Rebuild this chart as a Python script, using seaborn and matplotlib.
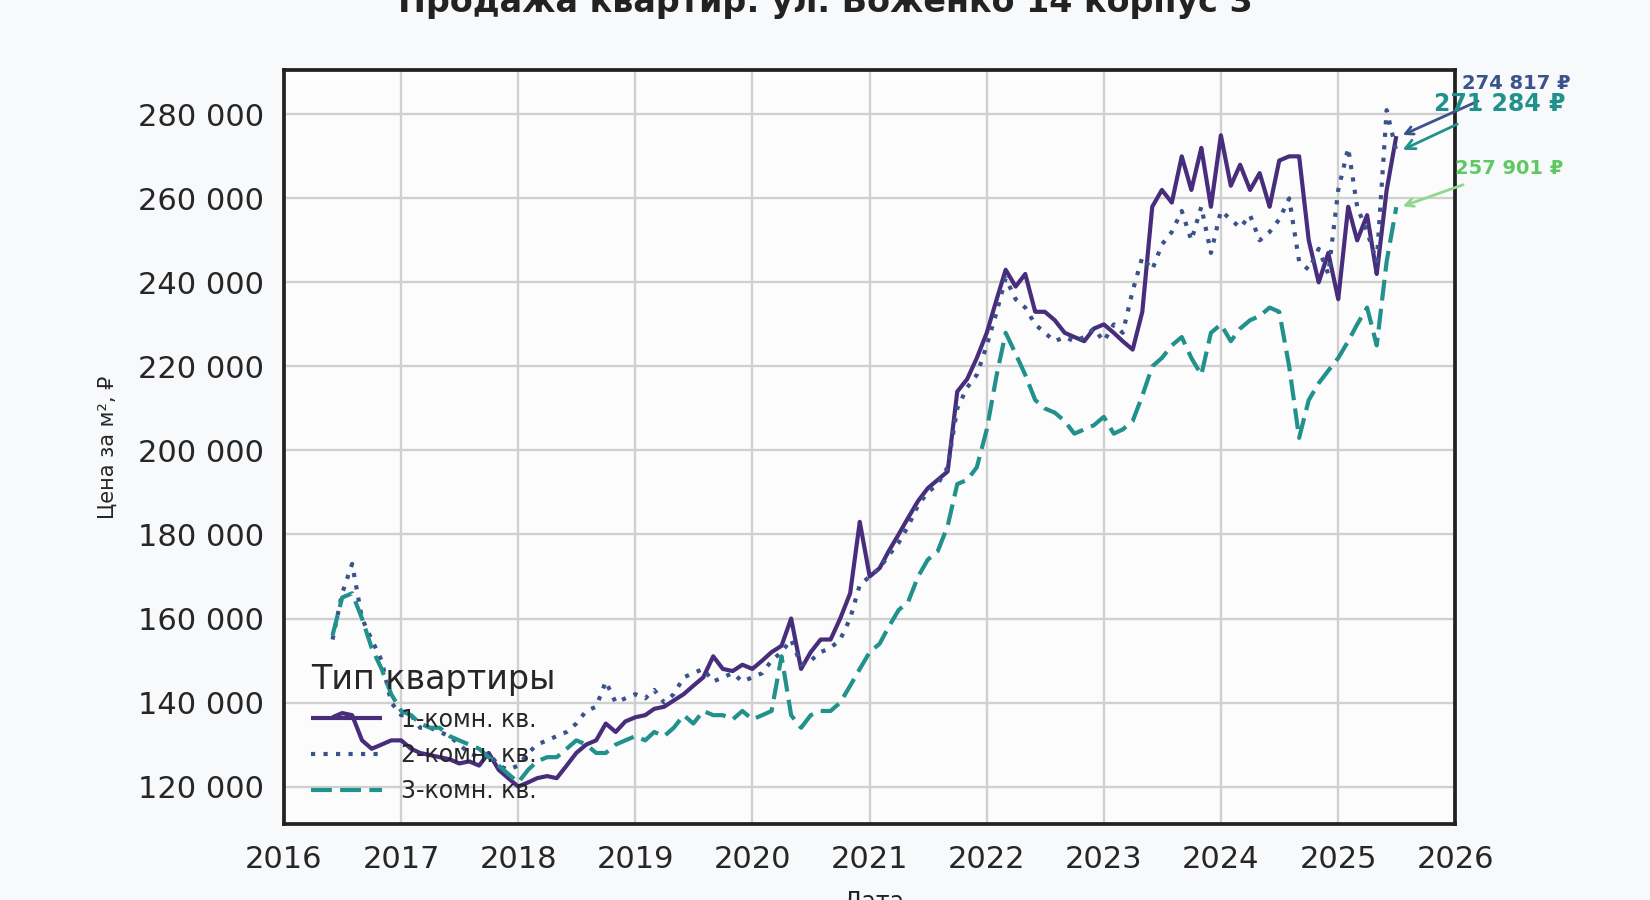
import matplotlib
matplotlib.use("Agg")
import matplotlib.pyplot as plt
import seaborn as sns
import pandas as pd

start_month = "2016-06-01"
labels = ["1-комн. кв.", "2-комн. кв.", "3-комн. кв."]

one_room = [
    136500, 137500, 137000, 131000, 129000, 130000, 131000,
    131000, 129000, 128000, 127500, 127000, 126500, 125500, 126000, 125000, 128000, 124000, 122000,
    120000, 121000, 122000, 122500, 122000, 125000, 128000, 130000, 131000, 135000, 133000, 135500,
    136500, 137000, 138500, 139000, 140500, 142000, 144000, 146000, 151000, 148000, 147500, 149000,
    148000, 150000, 152000, 153500, 160000, 148000, 152000, 155000, 155000, 160000, 166000, 183000,
    170000, 172000, 176000, 180000, 184000, 188000, 191000, 193000, 195000, 214000, 217000, 222000,
    228000, 236000, 243000, 239000, 242000, 233000, 233000, 231000, 228000, 227000, 226000, 229000,
    230000, 228000, 226000, 224000, 233000, 258000, 262000, 259000, 270000, 262000, 272000, 258000,
    275000, 263000, 268000, 262000, 266000, 258000, 269000, 270000, 270000, 250000, 240000, 247000,
    236000, 258000, 250000, 256000, 242000, 262000, 274817,
]
two_room = [
    155000, 166000, 173000, 160000, 155000, 150000, 140000,
    137000, 137000, 134000, 134000, 133000, 132000, 130000, 128000, 127000, 128000, 125000, 124000,
    125000, 128000, 130000, 131000, 132000, 133000, 135000, 138000, 139000, 145000, 140000, 141000,
    142000, 141000, 143000, 140000, 142000, 146000, 147000, 148000, 145000, 146000, 147000, 145000,
    146000, 147000, 150000, 152000, 155000, 149000, 150000, 152000, 153000, 155000, 160000, 168000,
    170000, 172000, 175000, 178000, 182000, 187000, 190000, 192000, 196000, 210000, 215000, 218000,
    225000, 233000, 241000, 236000, 234000, 230000, 228000, 226000, 227000, 226000, 227000, 229000,
    226000, 230000, 228000, 238000, 246000, 243000, 249000, 252000, 257000, 250000, 258000, 247000,
    257000, 255000, 253000, 256000, 250000, 252000, 255000, 260000, 245000, 243000, 248000, 242000,
    262000, 272000, 258000, 252000, 245000, 281000, 271284,
]
three_room = [
    156000, 165000, 166000, 160000, 153000, 148000, 142000,
    138000, 137000, 135000, 134000, 134000, 132000, 131000, 130000, 129000, 127000, 125000, 123000,
    121000, 124000, 126000, 127000, 127000, 129000, 131000, 130000, 128000, 128000, 130000, 131000,
    132000, 131000, 133000, 132000, 134000, 137000, 135000, 138000, 137000, 137000, 136000, 138000,
    136000, 137000, 138000, 151000, 137000, 134000, 137000, 138000, 138000, 140000, 144000, 148000,
    152000, 154000, 158000, 162000, 164000, 170000, 174000, 176000, 182000, 192000, 193000, 196000,
    205000, 218000, 228000, 223000, 218000, 212000, 210000, 209000, 207000, 204000, 205000, 206000,
    208000, 204000, 205000, 207000, 213000, 220000, 222000, 225000, 227000, 222000, 218000, 228000,
    230000, 226000, 229000, 231000, 232000, 234000, 233000, 220000, 203000, 212000, 216000, 219000,
    222000, 226000, 230000, 234000, 225000, 245000, 257901,
]
x_ticks = list(range(2016, 2027))
y_ticks = [120000, 140000, 160000, 180000, 200000, 220000, 240000, 260000, 280000]

dates = pd.date_range(start_month, periods=len(one_room), freq="MS")
df = pd.concat([
    pd.DataFrame({"Дата": dates, "Цена": vals, "Тип квартиры": lab})
    for vals, lab in zip([one_room, two_room, three_room], labels)
])

sns.set_theme(style="whitegrid")
plt.rcParams["font.family"] = ["DejaVu Sans"]
colors = ["#472d7b", "#3b528b", "#21918c"]
fig = plt.figure(figsize=(16.5, 9), dpi=100, facecolor="#f8f9fb")
ax = fig.add_axes([0.172, 0.084, 0.71, 0.838])
ax.set_facecolor("#fcfcfd")
sns.lineplot(data=df, x="Дата", y="Цена", hue="Тип квартиры", style="Тип квартиры",
             palette=colors, dashes=[(1, 0), (1, 2), (5, 2)], linewidth=3, ax=ax)

ax.set_xlim(pd.Timestamp("2016-01-01"), pd.Timestamp("2026-01-01"))
ax.set_ylim(111000, 290500)
ax.set_xticks([pd.Timestamp(f"{y}-01-01") for y in x_ticks])
ax.set_xticklabels([str(y) for y in x_ticks])
ax.set_yticks(y_ticks)
ax.set_yticklabels([f"{v:,}".replace(",", " ") for v in y_ticks])
ax.tick_params(axis="both", labelsize=22, length=11, width=2, direction="out", color="#222222")
ax.grid(color="#d0d0d0", linewidth=1.7)
for s in ax.spines.values():
    s.set_color("#222222")
    s.set_linewidth(2.7)
ax.set_xlabel("")
ax.set_ylabel("Цена за м², ₽", fontsize=15, labelpad=14)
fig.text(0.5, 0.997, "Продажа квартир: ул. Боженко 14 корпус 3", ha="center", va="center",
         fontsize=24, fontweight="bold", color="#222222")
fig.text(0.53, -0.002, "Дата", ha="center", va="center", fontsize=17, color="#222222")

leg = ax.legend(title="Тип квартиры", loc="lower left", bbox_to_anchor=(0.005, 0.0), frameon=False,
                fontsize=17, title_fontsize=24, handlelength=3)
leg._legend_box.align = "left"

last = dates[-1]
ann = [
    (one_room[-1], "274 817 ₽", "#3b528b", 14, (1.006, 0.982), "#3b528b"),
    (two_room[-1], "271 284 ₽", "#21918c", 17, (0.982, 0.955), "#21918c"),
    (three_room[-1], "257 901 ₽", "#5ec962", 14, (1.000, 0.870), "#8fd88f"),
]
for val, txt, col, fs, pos, acol in ann:
    ax.annotate(txt, xy=(last + pd.Timedelta(days=12), val), xytext=pos, textcoords="axes fraction",
                fontsize=fs, fontweight="bold", color=col, ha="left", va="center",
                arrowprops=dict(arrowstyle="->", color=acol, lw=2, shrinkA=8), annotation_clip=False)

fig.savefig("out.png", dpi=100, facecolor=fig.get_facecolor())
